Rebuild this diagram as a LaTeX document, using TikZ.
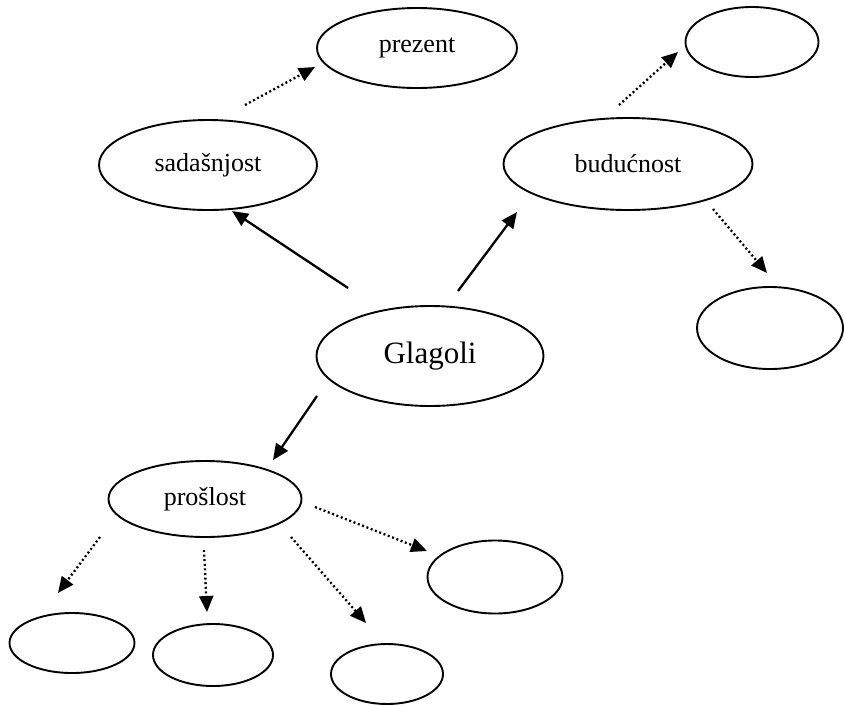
\documentclass[tikz,border=0pt]{standalone}
\usepackage{fontspec}
\setmainfont{Liberation Serif}
\usetikzlibrary{shapes.geometric, arrows.meta}

\begin{document}
\begin{tikzpicture}[x=1pt, y=-1pt,
    oval/.style={ellipse, draw, line width=1.9pt, inner sep=0pt, font=\fontsize{26}{30}\selectfont},
    puna/.style={line width=2.3pt, -{Triangle[length=16pt, width=14pt]}},
    tocke/.style={line width=2.3pt, dash pattern=on 2pt off 2.6pt, -{Triangle[length=16pt, width=14pt]}}]
    \useasboundingbox (0,0) rectangle (844,705);

    % Glavni pojam
    \node[oval, minimum width=227pt, minimum height=100pt, font=\fontsize{31}{36}\selectfont] (glagoli) at (430,356) {Glagoli};

    % Vremena
    \node[oval, minimum width=218pt, minimum height=90pt] (sad) at (208,165) {sada\v{s}njost};
    \node[oval, minimum width=249pt, minimum height=92pt] (bud) at (628,164) {budu\'cnost};
    \node[oval, minimum width=193pt, minimum height=76pt] (pro) at (205,499) {pro\v{s}lost};

    % Oblici
    \node[oval, minimum width=200pt, minimum height=80pt] (prezent) at (417,48) {prezent};
    \node[oval, minimum width=133pt, minimum height=70pt] (bud1) at (752,42) {};
    \node[oval, minimum width=146pt, minimum height=82pt] (bud2) at (770,328) {};
    \node[oval, minimum width=125pt, minimum height=60pt] (pro1) at (72,643) {};
    \node[oval, minimum width=120pt, minimum height=62pt] (pro2) at (213,655) {};
    \node[oval, minimum width=112pt, minimum height=60pt] (pro3) at (387,674) {};
    \node[oval, minimum width=135pt, minimum height=73pt] (pro4) at (495,577) {};

    % Krajevi strelica
    \coordinate (g1) at (348,288); \coordinate (s0) at (232,211);
    \coordinate (g2) at (458,291); \coordinate (b0) at (517,212);
    \coordinate (g3) at (317,396); \coordinate (p0) at (273,460);
    \coordinate (s1) at (245,105); \coordinate (s2) at (315,67);
    \coordinate (b1) at (619,105); \coordinate (b2) at (678,52);
    \coordinate (b3) at (713,209); \coordinate (b4) at (767,273);
    \coordinate (p1) at (100,537); \coordinate (p2) at (58,593);
    \coordinate (p3) at (204,550); \coordinate (p4) at (207,612);
    \coordinate (p5) at (291,537); \coordinate (p6) at (366,623);
    \coordinate (p7) at (315,507); \coordinate (p8) at (427,551);

    % Pune strelice
    \foreach \a/\b in {g1/s0, g2/b0, g3/p0}
        \draw[puna] (\a) -- (\b);

    % Tockaste strelice
    \foreach \a/\b in {s1/s2, b1/b2, b3/b4, p1/p2, p3/p4, p5/p6, p7/p8}
        \draw[tocke] (\a) -- (\b);
\end{tikzpicture}
\end{document}
